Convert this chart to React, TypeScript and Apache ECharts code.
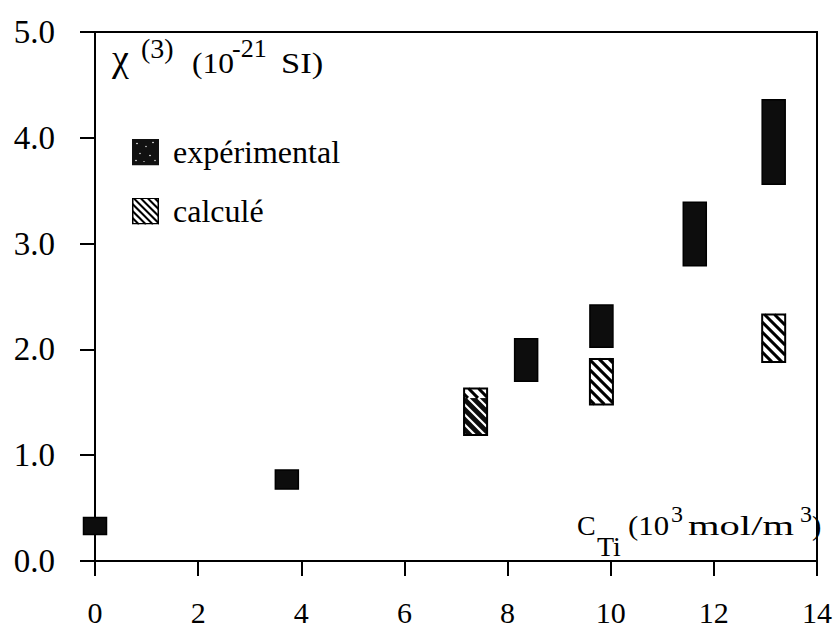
import React, { useEffect, useRef } from "react";
import * as echarts from "echarts";

// ---- data ----
const xValues = [0, 3.72, 7.38, 8.36, 9.82, 11.63, 13.16];
const expLow = [0.25, 0.68, 1.19, 1.7, 2.02, 2.79, 3.56];
const expHigh = [0.41, 0.86, 1.54, 2.1, 2.42, 3.39, 4.36];
const calcLow: (number | null)[] = [null, null, 1.19, null, 1.48, null, 1.88];
const calcHigh: (number | null)[] = [null, null, 1.63, null, 1.91, null, 2.33];
const legendNames = ["expérimental", "calculé"];
const xMin = 0, xMax = 14, xStep = 2;
const yMin = 0, yMax = 5, yStep = 1;

const FONT = "Liberation Serif";
const BOX_W = 23;
const HATCH = 10;

const expData = xValues.map((x, i) => [x, expLow[i], expHigh[i]]);
const calcIdx = xValues.map((_, i) => i).filter((i) => calcLow[i] != null);
const calcData = calcIdx.map((i) => [xValues[i], calcLow[i], calcHigh[i]]);

function stripes(x0: number, y0: number, x1: number, y1: number, color: string, lw: number) {
  const out: any[] = [];
  const cStart = Math.floor((x0 - y1) / HATCH) * HATCH;
  for (let c = cStart; c <= x1 - y0; c += HATCH) {
    const ya = Math.max(y0, x0 - c);
    const yb = Math.min(y1, x1 - c);
    if (yb > ya) {
      out.push({
        type: "line",
        shape: { x1: ya + c, y1: ya, x2: yb + c, y2: yb },
        style: { stroke: color, lineWidth: lw },
      });
    }
  }
  return out;
}

const expIconSvg =
  "<svg xmlns='http://www.w3.org/2000/svg' width='27' height='27' viewBox='0 0 27 27'>" +
  "<rect x='0' y='0' width='27' height='27' fill='#111'/>" +
  "<g fill='#fff'><circle cx='5' cy='5' r='0.8'/><circle cx='14' cy='8' r='0.7'/><circle cx='21' cy='4' r='0.8'/>" +
  "<circle cx='8' cy='15' r='0.7'/><circle cx='18' cy='17' r='0.8'/><circle cx='23' cy='22' r='0.7'/>" +
  "<circle cx='4' cy='22' r='0.8'/><circle cx='12' cy='23' r='0.6'/></g></svg>";
let hatchLines = "";
for (let c = -27; c <= 27; c += 7) {
  hatchLines += `<line x1='${c}' y1='0' x2='${c + 27}' y2='27' stroke='#000' stroke-width='2'/>`;
}
const calcIconSvg =
  "<svg xmlns='http://www.w3.org/2000/svg' width='27' height='27' viewBox='0 0 27 27'>" +
  "<rect x='0' y='0' width='27' height='27' fill='#fff'/>" +
  hatchLines +
  "<rect x='0.75' y='0.75' width='25.5' height='25.5' fill='none' stroke='#000' stroke-width='1.5'/></svg>";
const toUri = (s: string) => "image://data:image/svg+xml;charset=utf-8," + encodeURIComponent(s);

function txt(text: string, left: number, baseline: number, size: number, scaleX = 1) {
  return {
    type: "text",
    x: left,
    y: baseline - 0.34 * size,
    scaleX,
    silent: true,
    style: {
      text,
      fontFamily: FONT,
      fontSize: size,
      fill: "#000",
      textAlign: "left",
      textVerticalAlign: "middle",
    },
  };
}

export default function App() {
  const ref = useRef<HTMLDivElement>(null);
  useEffect(() => {
    if (!ref.current) return;
    const chart = echarts.init(ref.current, undefined, { renderer: "svg" });
    const axisLineStyle = { color: "#000", width: 2 };
    chart.setOption({
      animation: false,
      backgroundColor: "#fff",
      textStyle: { fontFamily: FONT },
      grid: {
        left: 95,
        right: 18,
        top: 32,
        bottom: 61,
        show: true,
        borderColor: "#000",
        borderWidth: 2,
        backgroundColor: "transparent",
      },
      legend: {
        orient: "vertical",
        left: 127,
        top: 131,
        itemWidth: 27,
        itemHeight: 27,
        itemGap: 27,
        selectedMode: false,
        textStyle: { fontFamily: FONT, fontSize: 32, color: "#000", padding: [0, 0, 0, 9] },
        data: [
          { name: legendNames[0], icon: toUri(expIconSvg) },
          { name: legendNames[1], icon: toUri(calcIconSvg) },
        ],
      },
      xAxis: {
        type: "value",
        min: xMin,
        max: xMax,
        interval: xStep,
        axisLine: { show: true, lineStyle: axisLineStyle },
        axisTick: { show: true, inside: false, length: 15, lineStyle: axisLineStyle },
        axisLabel: {
          margin: 40,
          color: "#000",
          showMinLabel: true,
          showMaxLabel: true,
          formatter: (v: number) => `{t|${v}}`,
          rich: { t: { fontFamily: FONT, fontSize: 30, lineHeight: 22, color: "#000" } },
        },
        splitLine: { show: false },
      },
      yAxis: {
        type: "value",
        min: yMin,
        max: yMax,
        interval: yStep,
        axisLine: { show: true, lineStyle: axisLineStyle },
        axisTick: { show: true, inside: false, length: 15, lineStyle: axisLineStyle },
        axisLabel: {
          margin: 40,
          color: "#000",
          formatter: (v: number) => `{t|${v.toFixed(1)}}`,
          rich: { t: { fontFamily: FONT, fontSize: 33, color: "#000" } },
          showMinLabel: true,
          showMaxLabel: true,
        },
        splitLine: { show: false },
      },
      graphic: [
        txt("χ", 112, 71, 38),
        txt("(3)", 141, 58, 28),
        txt("(10", 192, 73, 30, 1.05),
        txt("-21", 232, 57, 26),
        txt("SI)", 281, 73, 30, 1.15),
        txt("C", 577, 535, 28),
        txt("Ti", 597, 556, 28),
        txt("(10", 628, 535, 28, 1.1),
        txt("3", 671, 522, 24),
        txt("mol/m", 688, 535, 28, 1.45),
        txt("3", 800, 522, 24),
        txt(")", 812, 535, 28),
      ],
      series: [
        {
          name: legendNames[0],
          type: "custom",
          z: 2,
          encode: { x: 0, y: [1, 2] },
          data: expData,
          renderItem: (params: any, api: any) => {
            const x = api.value(0);
            const top = api.coord([x, api.value(2)]);
            const bot = api.coord([x, api.value(1)]);
            return {
              type: "rect",
              shape: { x: top[0] - BOX_W / 2, y: top[1], width: BOX_W, height: bot[1] - top[1] },
              style: { fill: "#0d0d0d", stroke: "#000", lineWidth: 1.5 },
            };
          },
        },
        {
          name: legendNames[1],
          type: "custom",
          z: 3,
          encode: { x: 0, y: [1, 2] },
          data: calcData,
          renderItem: (params: any, api: any) => {
            const i = calcIdx[params.dataIndex];
            const x = api.value(0);
            const lo = api.value(1), hi = api.value(2);
            const eLo = expLow[i], eHi = expHigh[i];
            const top = api.coord([x, hi]);
            const bot = api.coord([x, lo]);
            const x0 = top[0] - BOX_W / 2, x1 = top[0] + BOX_W / 2;
            const y0 = top[1], y1 = bot[1];
            const children: any[] = [
              { type: "rect", shape: { x: x0, y: y0, width: BOX_W, height: y1 - y0 }, style: { fill: "#fff" } },
            ];
            const oTop = api.coord([x, Math.min(hi, eHi)])[1];
            const oBot = api.coord([x, Math.max(lo, eLo)])[1];
            if (oBot > oTop) {
              children.push({ type: "rect", shape: { x: x0, y: oTop, width: BOX_W, height: oBot - oTop }, style: { fill: "#0d0d0d" } });
              children.push(...stripes(x0, y0, x1, oTop, "#000", 3));
              children.push(...stripes(x0, oTop, x1, oBot, "#fff", 2.2));
              if (y1 > oBot) children.push(...stripes(x0, oBot, x1, y1, "#000", 3));
            } else {
              children.push(...stripes(x0, y0, x1, y1, "#000", 3));
            }
            children.push({
              type: "rect",
              shape: { x: x0, y: y0, width: BOX_W, height: y1 - y0 },
              style: { fill: "none", stroke: "#000", lineWidth: 2 },
            });
            return { type: "group", children };
          },
        },
      ],
    });
    return () => chart.dispose();
  }, []);
  return <div ref={ref} style={{ position: "absolute", left: 0, top: 0, width: 835, height: 627 }} />;
}
